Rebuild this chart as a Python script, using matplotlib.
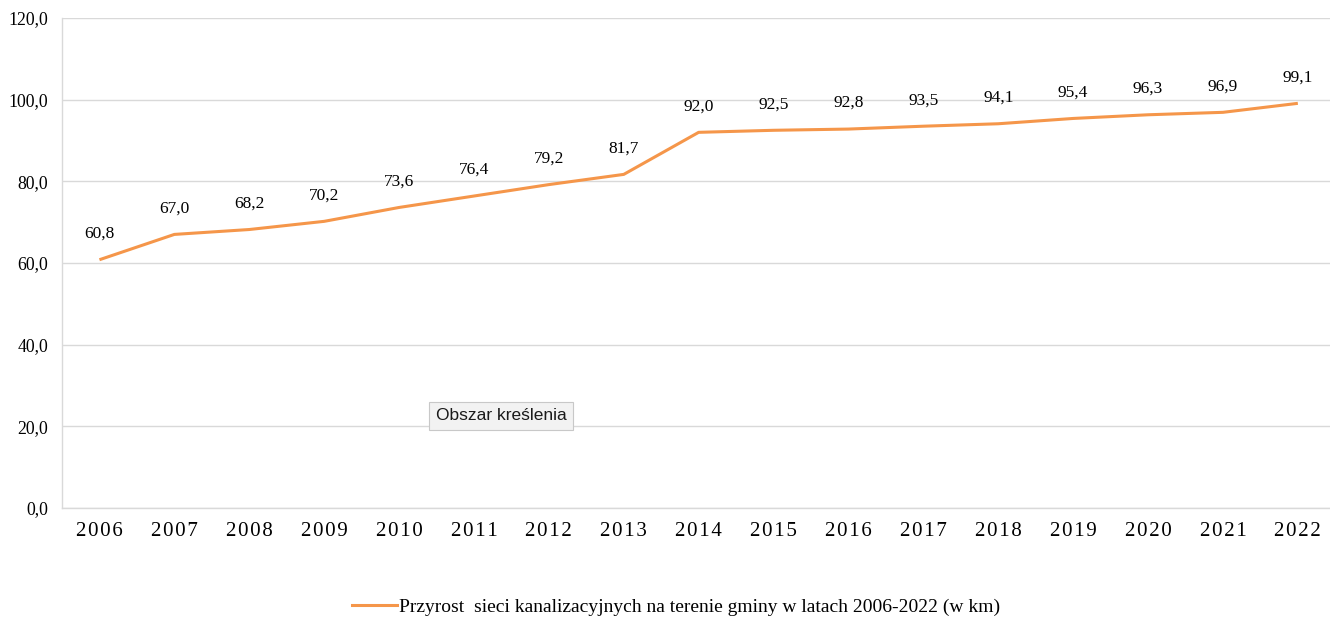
import matplotlib
matplotlib.use("Agg")
import matplotlib.pyplot as plt
from matplotlib.lines import Line2D

years = ["2006", "2007", "2008", "2009", "2010", "2011", "2012", "2013", "2014",
         "2015", "2016", "2017", "2018", "2019", "2020", "2021", "2022"]
values = [60.8, 67.0, 68.2, 70.2, 73.6, 76.4, 79.2, 81.7, 92.0,
          92.5, 92.8, 93.5, 94.1, 95.4, 96.3, 96.9, 99.1]
y_ticks = [0, 20, 40, 60, 80, 100, 120]
series_name = "Przyrost  sieci kanalizacyjnych na terenie gminy w latach 2006-2022 (w km)"

serif = ["Liberation Serif", "DejaVu Serif"]
orange = "#F5964A"
grid = "#D9D9D9"

W, H = 1330, 621
fig = plt.figure(figsize=(W / 100, H / 100), dpi=100)
left, right, top, bottom = 62, 1330, 18, 508
ax = fig.add_axes([left / W, 1 - bottom / H, (right - left) / W, (bottom - top) / H])

x = list(range(len(years)))
ax.plot(x, values, color=orange, linewidth=2.2, solid_capstyle="butt", zorder=3)
for xi, v in zip(x, values):
    ax.annotate(f"{v:.1f}".replace(".", ","), (xi, v), xytext=(0, 13),
                textcoords="offset points", ha="center", va="bottom",
                fontsize=12.5, family=serif, color="#000000")

spacing = 74.9
ax.set_xlim(-0.5, -0.5 + (right - left) / spacing)
ax.set_ylim(0, 120)
ax.set_yticks(y_ticks)
ax.set_yticklabels([f"{t:.1f}".replace(".", ",") for t in y_ticks], family=serif, fontsize=12.8)
ax.set_xticks(x)
ax.set_xticklabels(["\u200a".join(list(y)) for y in years], family=serif, fontsize=15)
ax.tick_params(axis="both", length=0, colors="#000000")
ax.tick_params(axis="y", pad=10)
ax.tick_params(axis="x", pad=10)
ax.grid(axis="y", color=grid, linewidth=1.0)
for s in ["top", "right"]:
    ax.spines[s].set_visible(False)
ax.spines["left"].set_color(grid)
ax.spines["bottom"].set_color(grid)
ax.spines["left"].set_linewidth(1.0)
ax.spines["bottom"].set_linewidth(1.0)

handle = Line2D([], [], color=orange, linewidth=2.2)
fig.legend([handle], [series_name], loc="center", bbox_to_anchor=(676 / W, 1 - 607 / H),
           frameon=False, prop={"family": serif, "size": 14}, handlelength=2.35,
           handletextpad=0.1)

# tooltip artifact
fig.text(501 / W, 1 - 416 / H, "Obszar kreślenia", ha="center", va="center",
         fontsize=12.5, family=["Liberation Sans", "DejaVu Sans"], color="#1a1a1a",
         bbox=dict(boxstyle="square,pad=0.4", facecolor="#F2F2F2", edgecolor="#C8C8C8", linewidth=0.8))

fig.savefig("out.png", dpi=100, facecolor="white")
